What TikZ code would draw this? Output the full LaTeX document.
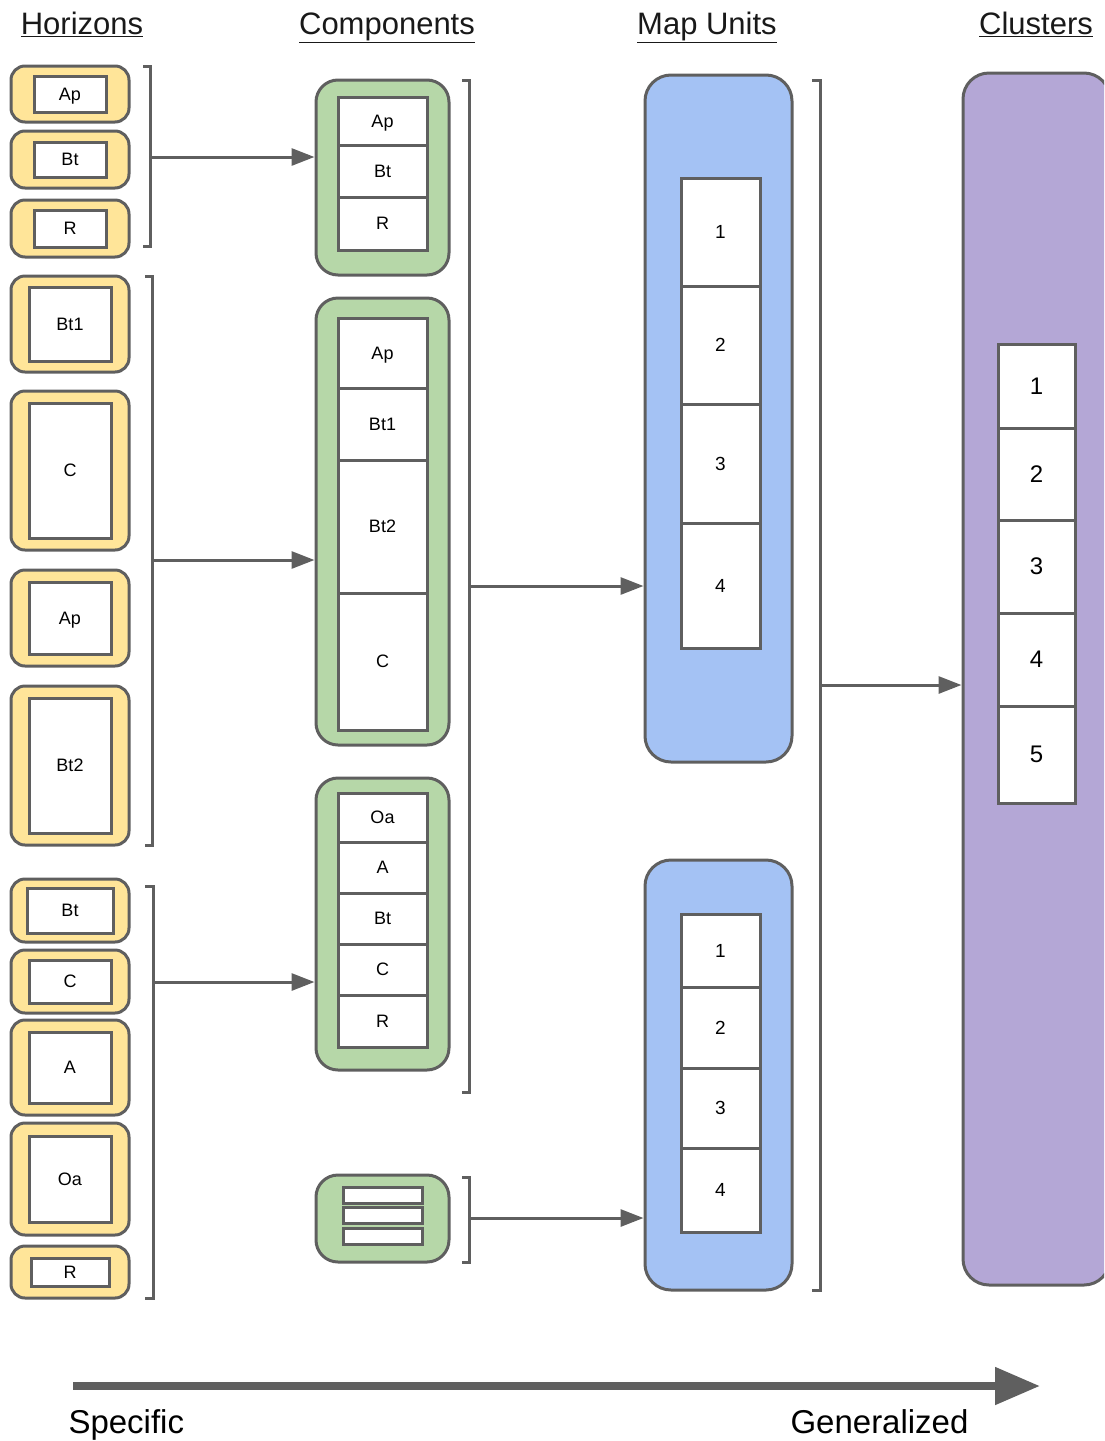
\documentclass[tikz,border=0pt]{standalone}
\usepackage{fontspec}
\setmainfont{Liberation Sans}
\usetikzlibrary{arrows.meta, calc, positioning}
\definecolor{giallo}{HTML}{FFE599}
\definecolor{verde}{HTML}{B6D7A8}
\definecolor{azzurro}{HTML}{A4C2F4}
\definecolor{viola}{HTML}{B4A7D6}
\definecolor{bordo}{HTML}{5F5F5F}
\newcommand\fontcella{\fontsize{18}{20}\selectfont}
\newcommand\fontnumero{\fontsize{24}{26}\selectfont}
\newcommand\fonttitolo{\fontsize{31}{34}\selectfont}
\newcommand\fontscala{\fontsize{33}{36}\selectfont}
\tikzset{
  orizzonte/.style={draw=bordo,line width=3pt,fill=giallo,rounded corners=14pt,minimum width=118pt,inner sep=0pt},
  profilo/.style={draw=bordo,line width=3pt,fill=verde,rounded corners=22pt,minimum width=133pt,inner sep=0pt},
  unita/.style={draw=bordo,line width=3pt,fill=azzurro,rounded corners=26pt,minimum width=147pt,inner sep=0pt},
  gruppo/.style={draw=bordo,line width=3pt,fill=viola,rounded corners=26pt,minimum width=147pt,inner sep=0pt},
  cella/.style={draw=bordo,line width=3pt,fill=white,inner sep=0pt,text depth=0pt,font=\fontcella},
  parentesi/.style={draw=bordo,line width=3pt},
  freccia/.style={draw=bordo,line width=3pt,-{Triangle[length=23pt,width=17pt]}},
  titolo/.style={anchor=base,font=\fonttitolo,text=black!90}
}

\begin{document}
\begin{tikzpicture}[x=1pt,y=-1pt]
\useasboundingbox (0,0) rectangle (1104,1441);
\clip (0,0) rectangle (1104,1441);

% titoli delle colonne
\node[titolo] (tOr)  at (82,34)   {\underline{Horizons}};
\node[titolo] (tCmp) at (387,34)  {\underline{Components}};
\node[titolo] (tMu)  at (707,34)  {\underline{Map Units}};
\node[titolo] (tCl)  at (1036,34) {\underline{Clusters}};

% orizzonti (giallo)
\foreach \n/\t/\b/\lab/\ix/\iy in {
  h1/66/122/Ap/23/10, h2/131/188/Bt/23/11, h3/200/257/R/23/10,
  h4/276/372/Bt1/18/11, h5/391/550/C/18/12, h6/570/666/Ap/18/12,
  h7/686/845/Bt2/18/12, h8/879/942/Bt/16/9, h9/950/1013/C/18/10,
  h10/1020/1115/A/18/12, h11/1123/1235/Oa/18/13, h12/1246/1298/R/20/12
}{
  \node[orizzonte, minimum height={\b-\t}] (\n) at (70,{(\t+\b)/2}) {};
  \node[cella, minimum width={118-2*\ix}, minimum height={\b-\t-2*\iy}] (\n-in) at (\n) {\lab};
}

% componenti (verde)
\node[profilo, minimum height=195] (cmp1) at (382.5,177.5) {};
\node[profilo, minimum height=447] (cmp2) at (382.5,521.5) {};
\node[profilo, minimum height=292] (cmp3) at (382.5,924) {};
\node[profilo, minimum height=87]  (cmp4) at (382.5,1218.5) {};
\foreach \n/\t/\b/\lab in {
  a1/97/145/Ap, a2/145/197/Bt, a3/197/250/R,
  b1/318/388/Ap, b2/388/460/Bt1, b3/460/593/Bt2, b4/593/730/C,
  c1/793/842/Oa, c2/842/893/A, c3/893/944/Bt, c4/944/995/C, c5/995/1047/R
}{
  \node[cella, minimum width=89, minimum height={\b-\t}] (\n) at (382.5,{(\t+\b)/2}) {\lab};
}
\foreach \n/\y in {d1/1195, d2/1215.5, d3/1236}
  \node[cella, minimum width=79, minimum height=16] (\n) at (382.5,\y) {};

% unita cartografiche (azzurro)
\node[unita, minimum height=687] (mu1) at (718.5,418.5) {};
\node[unita, minimum height=430] (mu2) at (718.5,1075) {};
\foreach \n/\t/\b/\lab in {
  m1/178/286/1, m2/286/404/2, m3/404/523/3, m4/523/648/4,
  n1/914/987/1, n2/987/1068/2, n3/1068/1148/3, n4/1148/1232/4
}{
  \node[cella, font=\fontsize{19}{21}\selectfont, minimum width=79, minimum height={\b-\t}] (\n) at (720.5,{(\t+\b)/2}) {\lab};
}

% cluster (viola)
\node[gruppo, minimum height=1212] (cl) at (1036.5,679) {};
\foreach \n/\t/\b/\lab in {
  k1/344/428/1, k2/428/520/2, k3/520/613/3, k4/613/706/4, k5/706/803/5
}{
  \node[cella, font=\fontnumero, minimum width=77, minimum height={\b-\t}] (\n) at (1036.5,{(\t+\b)/2}) {\lab};
}

% parentesi di raggruppamento
\draw[parentesi] (143,66) -- (150,66) -- (150,246) -- (143,246);
\draw[parentesi] (145,276) -- (152,276) -- (152,845) -- (145,845);
\draw[parentesi] (145,886) -- (153,886) -- (153,1298) -- (145,1298);
\draw[parentesi] (462,80) -- (469,80) -- (469,1092) -- (462,1092);
\draw[parentesi] (462,1177) -- (469,1177) -- (469,1262) -- (462,1262);
\draw[parentesi] (812,80) -- (820,80) -- (820,1290) -- (812,1290);
\coordinate (p1) at (150,157);
\coordinate (p2) at (152,560);
\coordinate (p3) at (153,982);
\coordinate (p4) at (469,586);
\coordinate (p5) at (469,1218);
\coordinate (p6) at (820,685);

% frecce
\draw[freccia] (p1) -- (p1 -| cmp1.west);
\draw[freccia] (p2) -- (p2 -| cmp2.west);
\draw[freccia] (p3) -- (p3 -| cmp3.west);
\draw[freccia] (p4) -- (p4 -| mu1.west);
\draw[freccia] (p5) -- (p5 -| mu2.west);
\draw[freccia] (p6) -- (p6 -| cl.west);

% scala dal particolare al generale
\coordinate (inizio) at (73,1386);
\coordinate (fine) at (1040,1386);
\draw[draw=bordo, line width=8pt, -{Triangle[length=45pt,width=36pt]}] (inizio) -- (fine);
\node[anchor=base west, font=\fontscala] (spec) at (65,1433) {Specific};
\node[anchor=base east, font=\fontscala] (gen) at (972,1433) {Generalized};

\end{tikzpicture}
\end{document}
